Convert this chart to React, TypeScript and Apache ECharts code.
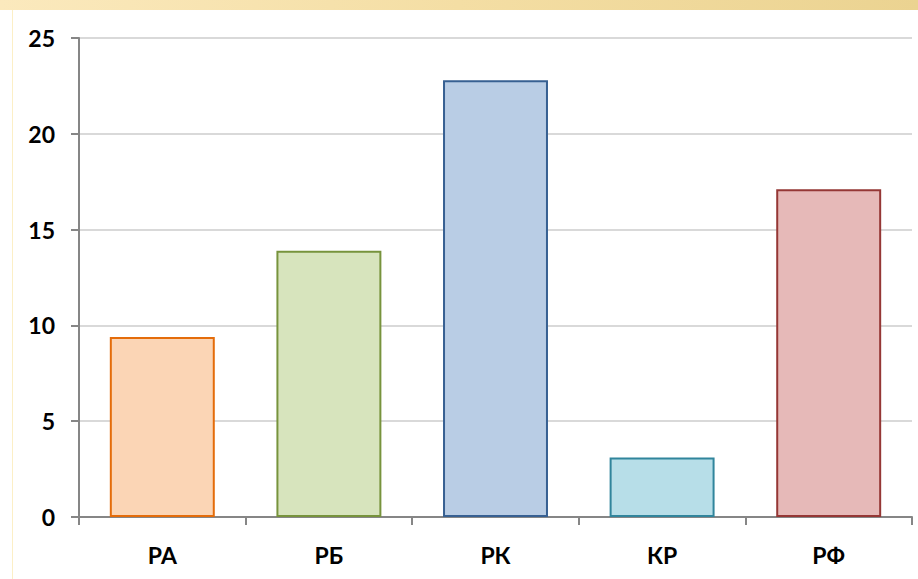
import React, { useEffect, useRef } from "react";
import * as echarts from "echarts";

const categories = ["РА", "РБ", "РК", "КР", "РФ"];
const values = [9.4, 13.9, 22.8, 3.1, 17.1];
const fills = ["#fbd5b5", "#d7e4bd", "#b9cde5", "#b7dee8", "#e6b9b8"];
const borders = ["#e46c0a", "#77933c", "#376092", "#31859c", "#953735"];
const yTicks = [0, 5, 10, 15, 20, 25];

export default function App() {
  const ref = useRef<HTMLDivElement>(null);
  useEffect(() => {
    if (!ref.current) return;
    const chart = echarts.init(ref.current, null, { renderer: "svg" });
    chart.setOption({
      animation: false,
      backgroundColor: "#ffffff",
      graphic: [
        {
          type: "rect",
          shape: { x: 0, y: 0, width: 918, height: 10 },
          style: {
            fill: new echarts.graphic.LinearGradient(0, 0, 1, 0, [
              { offset: 0, color: "#fbe9bd" },
              { offset: 0.5, color: "#f4dea4" },
              { offset: 1, color: "#ebd391" },
            ]),
          },
          silent: true,
        },
        {
          type: "line",
          shape: { x1: 12.5, y1: 10, x2: 12.5, y2: 579 },
          style: { stroke: "#fcefc6", lineWidth: 1 },
          silent: true,
        },
      ],
      grid: { left: 79, right: 6, top: 38, bottom: 62, containLabel: false },
      xAxis: {
        type: "category",
        data: categories,
        axisLine: { show: true, lineStyle: { color: "#868686", width: 2 } },
        axisTick: { show: true, alignWithLabel: false, length: 8, lineStyle: { color: "#868686", width: 2 } },
        axisLabel: {
          color: "#000",
          fontFamily: "Lato",
          fontWeight: "bold",
          fontSize: 23,
          margin: 26,
        },
        splitLine: { show: false },
      },
      yAxis: {
        type: "value",
        min: 0,
        max: 25,
        interval: 5,
        axisLine: { show: true, lineStyle: { color: "#868686", width: 2 } },
        axisTick: { show: true, length: 8, lineStyle: { color: "#868686", width: 2 } },
        axisLabel: {
          color: "#000",
          fontFamily: "Lato",
          fontWeight: "bold",
          fontSize: 23,
          margin: 24,
          formatter: (v: number) => (yTicks.includes(v) ? String(v) : ""),
        },
        splitLine: { show: true, lineStyle: { color: "#d9d9d9", width: 2 } },
      },
      series: [
        {
          type: "bar",
          data: values.map((v, i) => ({
            value: v,
            itemStyle: { color: fills[i], borderColor: borders[i], borderWidth: 2 },
          })),
          barCategoryGap: "37%",
        },
      ],
    });
    return () => chart.dispose();
  }, []);
  return (
    <div
      ref={ref}
      style={{ position: "absolute", left: 0, top: 0, width: 918, height: 579 }}
    />
  );
}
